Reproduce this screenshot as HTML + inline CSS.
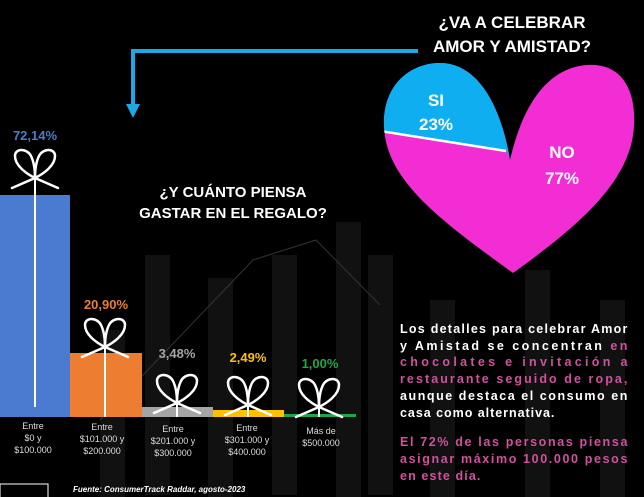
<!DOCTYPE html>
<html><head><meta charset="utf-8"><style>
body{margin:0;background:#000;}
svg{display:block;font-family:"Liberation Sans",sans-serif;}
</style></head><body>
<svg width="644" height="497" viewBox="0 0 644 497">
<defs>
<g id="bow" fill="none" stroke="#fff" stroke-width="2.5" stroke-linecap="round">
<path d="M0,0 C-8,-4 -20,-12 -20,-22 C-20,-30 -8,-30 -4,-22 C-1,-16 0,-8 0,0"/>
<path d="M0,0 C8,-4 20,-12 20,-22 C20,-30 8,-30 4,-22 C1,-16 0,-8 0,0"/>
<path d="M0,0 L-23,10 M0,0 L23,10"/>
</g>
<clipPath id="heart"><path d="M513,273 C440,220 385,180 384,125 C383,85 410,63 440,63 C475,63 500,100 510,160 C525,95 555,63 595,65 C625,67 636,95 634,125 C632,180 580,225 513,273 Z"/></clipPath>
</defs>
<rect width="644" height="497" fill="#000"/>
<g fill="#111">
<rect x="145" y="255" width="25" height="240"/><rect x="208" y="278" width="25" height="220"/>
<rect x="272" y="255" width="25" height="240"/><rect x="336" y="222" width="25" height="275"/>
<rect x="368" y="255" width="25" height="240"/><rect x="430" y="300" width="25" height="197"/>
<rect x="525" y="270" width="25" height="227"/><rect x="600" y="300" width="25" height="197"/>
<rect x="100" y="330" width="25" height="167"/>
</g>
<polyline points="100,420 253,260 316,240 380,305" fill="none" stroke="#333" stroke-width="1"/>
<path d="M418,51 H133 V104" fill="none" stroke="#1ea7e6" stroke-width="4"/>
<path d="M126,104 L140,104 L133,118 Z" fill="#1ea7e6"/>
<text x="512" y="28" fill="#fff" font-size="17" font-weight="bold" text-anchor="middle">¿VA A CELEBRAR</text>
<text x="512" y="52" fill="#fff" font-size="17" font-weight="bold" text-anchor="middle">AMOR Y AMISTAD?</text>
<g clip-path="url(#heart)">
<rect x="380" y="60" width="260" height="220" fill="#f22dd3"/>
<polygon points="380,60 511,60 511,160 506,151 380,131" fill="#0eaef0"/>
<line x1="380" y1="131" x2="506" y2="151" stroke="#fff" stroke-width="2.5"/>
</g>
<text x="436" y="106" fill="#fff" font-size="17" font-weight="bold" text-anchor="middle">SI</text>
<text x="436" y="130" fill="#fff" font-size="17" font-weight="bold" text-anchor="middle">23%</text>
<text x="562" y="158" fill="#fff" font-size="17" font-weight="bold" text-anchor="middle">NO</text>
<text x="562" y="184" fill="#fff" font-size="17" font-weight="bold" text-anchor="middle">77%</text>
<text x="233" y="197" fill="#fff" font-size="15" font-weight="bold" text-anchor="middle">¿Y CUÁNTO PIENSA</text>
<text x="233" y="218" fill="#fff" font-size="15" font-weight="bold" text-anchor="middle">GASTAR EN EL REGALO?</text>
<rect x="0" y="195" width="70" height="222" fill="#4a7bd0"/>
<rect x="70" y="353" width="72" height="64" fill="#ed7d31"/>
<rect x="142" y="407" width="71" height="10" fill="#a5a5a5"/>
<rect x="213" y="410" width="71" height="7" fill="#ffc000"/>
<rect x="284" y="414" width="72" height="3" fill="#1fa64a"/>
<g stroke="#fff" stroke-width="2">
<line x1="35" y1="178" x2="35" y2="407"/><line x1="105" y1="347" x2="105" y2="417"/>
<line x1="177" y1="403" x2="177" y2="417"/><line x1="248" y1="405" x2="248" y2="417"/>
<line x1="319" y1="407" x2="319" y2="417"/>
</g>
<use href="#bow" x="35" y="178"/><use href="#bow" x="105" y="347"/>
<use href="#bow" x="177" y="403"/><use href="#bow" x="248" y="405"/><use href="#bow" x="319" y="407"/>
<g font-size="13" font-weight="bold" text-anchor="middle">
<text x="35" y="140" fill="#4a7bd0">72,14%</text>
<text x="106" y="309" fill="#ed7d31">20,90%</text>
<text x="177" y="358" fill="#a5a5a5">3,48%</text>
<text x="248" y="362" fill="#ffc000">2,49%</text>
<text x="320" y="368" fill="#1fa64a">1,00%</text>
</g>
<g font-size="9" fill="#ddd" text-anchor="middle">
<text x="33" y="429">Entre</text><text x="33" y="441">$0 y</text><text x="33" y="453">$100.000</text>
<text x="102" y="430">Entre</text><text x="102" y="442">$101.000 y</text><text x="102" y="454">$200.000</text>
<text x="173" y="432">Entre</text><text x="173" y="444">$201.000 y</text><text x="173" y="456">$300.000</text>
<text x="247" y="431">Entre</text><text x="247" y="443">$301.000 y</text><text x="247" y="455">$400.000</text>
<text x="321" y="434">Más de</text><text x="321" y="446">$500.000</text>
</g>
<text x="73" y="492" fill="#fff" font-size="8" font-weight="bold" font-style="italic">Fuente: ConsumerTrack Raddar, agosto-2023</text>
<rect x="0" y="484" width="48" height="20" fill="none" stroke="#fff" stroke-width="1"/>
<g font-size="12.5" font-weight="bold" letter-spacing="0.6">
<text x="400" y="333" fill="#fff" textLength="228" lengthAdjust="spacing">Los detalles para celebrar Amor</text>
<text x="400" y="350" textLength="228" lengthAdjust="spacing"><tspan fill="#fff">y Amistad se concentran </tspan><tspan fill="#d2509e">en</tspan></text>
<text x="400" y="366" fill="#d2509e" textLength="228" lengthAdjust="spacing">chocolates e invitación a</text>
<text x="400" y="383" fill="#d2509e" textLength="228" lengthAdjust="spacing">restaurante seguido de ropa,</text>
<text x="400" y="400" fill="#fff" textLength="228" lengthAdjust="spacing">aunque destaca el consumo en</text>
<text x="400" y="417" fill="#fff" textLength="155" lengthAdjust="spacing">casa como alternativa.</text>
<text x="400" y="446" fill="#d2509e" textLength="228" lengthAdjust="spacing">El 72% de las personas piensa</text>
<text x="400" y="463" fill="#d2509e" textLength="228" lengthAdjust="spacing">asignar máximo 100.000 pesos</text>
<text x="400" y="480" fill="#d2509e" textLength="81" lengthAdjust="spacing">en este día.</text>
</g>
</svg>
</body></html>
